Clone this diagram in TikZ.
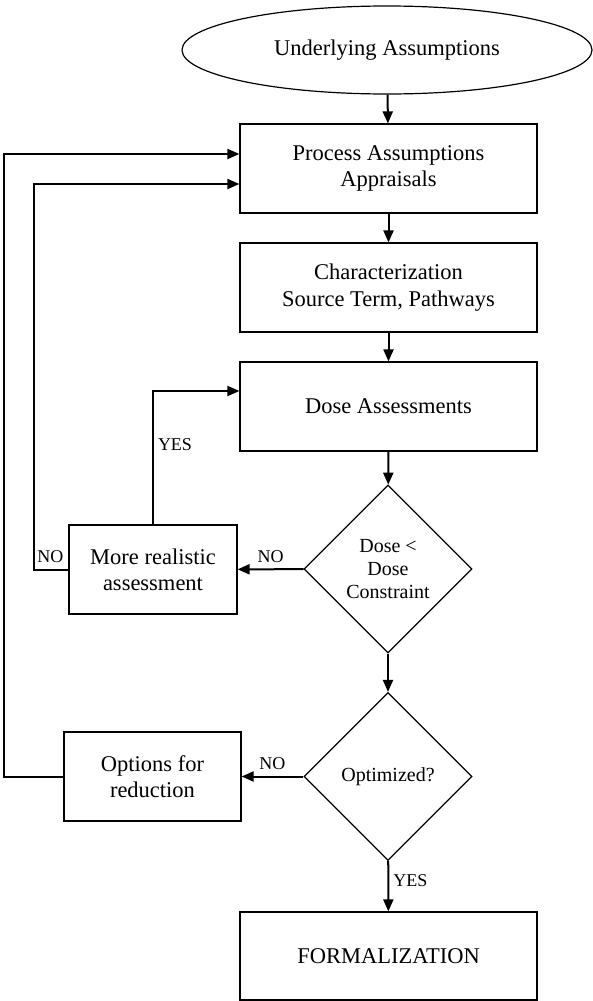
\documentclass[tikz,border=0pt]{standalone}
\usepackage{fontspec}
\setmainfont{Liberation Serif}
\usetikzlibrary{shapes.geometric}
\usetikzlibrary{arrows.meta}

\begin{document}
\begin{tikzpicture}[x=0.5pt, y=-0.5pt,
  box/.style={draw, line width=0.6pt, minimum height=44.5pt, inner sep=0pt,
    align=center, font=\fontsize{11.25}{13.2}\selectfont},
  decision/.style={draw, diamond, aspect=1, line width=0.6pt, minimum size=84pt,
    inner sep=0pt, align=center, font=\fontsize{10}{11.6}\selectfont},
  flow/.style={-{Triangle[length=6pt, width=5pt]}, line width=1pt},
  answer/.style={font=\fontsize{9}{10}\selectfont, inner sep=2pt}]
  \useasboundingbox (0,0) rectangle (593,1001);

  % main column
  \node[draw, ellipse, line width=0.6pt, minimum width=205pt, minimum height=44pt,
    inner sep=0pt, font=\fontsize{11.25}{13.2}\selectfont] (assump) at (387,50) {Underlying Assumptions};
  \node[box, minimum width=148.5pt] (process) at (388.5,168.5) {Process Assumptions\\Appraisals};
  \node[box, minimum width=148.5pt] (charact) at (388.5,287.5) {Characterization\\Source Term, Pathways};
  \node[box, minimum width=148.5pt] (doseass) at (388.5,406.5) {Dose Assessments};
  \node[decision] (dosecheck) at (388,569) {Dose <\\Dose\\Constraint};
  \node[decision] (optim) at (388,776.5) {Optimized?};
  \node[box, minimum width=148.5pt, minimum height=44pt] (formal) at (388.5,956) {FORMALIZATION};

  % side boxes
  \node[box, minimum width=84pt] (realistic) at (153,569.5) {More realistic\\assessment};
  \node[box, minimum width=88.5pt] (options) at (152.5,776.5) {Options for\\reduction};

  \draw[flow] (assump) -- (process);
  \draw[flow] (process) -- (charact);
  \draw[flow] (charact) -- (doseass);
  \draw[flow] (doseass) -- (dosecheck);
  \draw[flow] (dosecheck) -- (optim);
  \draw[flow] (optim) -- node[answer, right, pos=0.4] {YES} (formal);

  \draw[flow] (dosecheck) -- node[answer, above, yshift=1pt] {NO} (realistic);
  \draw[flow] (optim) -- node[answer, above, yshift=1pt] {NO} (options);

  % loops back
  \draw[flow] (realistic.north) |- node[answer, right, pos=0.3] {YES} ([yshift=7.75pt]doseass.west);
  \draw[flow] (realistic.west) node[answer, above left, yshift=1pt] {NO}
    -- ++(-34.5,0) |- ([yshift=-7.75pt]process.west);
  \draw[flow] (options.west) -- ++(-59.5,0) |- ([yshift=7.25pt]process.west);
\end{tikzpicture}
\end{document}
